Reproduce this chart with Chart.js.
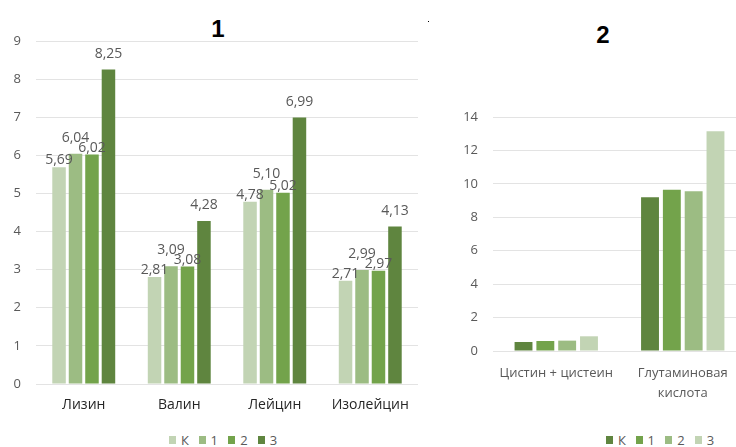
<!DOCTYPE html>
<html>
<head>
<meta charset="utf-8" />
<title>Аминокислоты</title>
<script src="https://cdn.jsdelivr.net/npm/chart.js"></script>
<style>
  body { margin: 0; width: 736px; height: 447px; overflow: hidden; background: #fff; position: relative; font-family: "Open Sans", sans-serif; }
  canvas { position: absolute; top: 0; }
  .title { position: absolute; font: bold 24px "Liberation Sans", Arial, sans-serif; line-height: 24px; color: #000; transform: translateX(-50%); }
  .legend { position: absolute; top: 432px; display: flex; font-size: 13px; color: #595959; line-height: 16px; }
  .legend .item { display: flex; align-items: center; width: 29.6px; }
  .legend i { width: 7px; height: 8px; margin-right: 5px; display: inline-block; }
  .dot { position: absolute; left: 428px; top: 21px; width: 1px; height: 1px; background: #000; }
</style>
</head>
<body>
  <div class="title" style="left: 218px; top: 17px;">1</div>
  <div class="title" style="left: 603px; top: 23px;">2</div>
  <div class="dot"></div>
  <canvas id="chart1" width="440" height="426" style="left: 0;"></canvas>
  <canvas id="chart2" width="320" height="426" style="left: 440px;"></canvas>
  <div class="legend" id="legend1" style="left: 169px;"></div>
  <div class="legend" id="legend2" style="left: 606px;"></div>

<script>
  // chart 1 - essential amino acids
  const amino1 = ["Лизин", "Валин", "Лейцин", "Изолейцин"];
  const groups = ["К", "1", "2", "3"];
  const valsK = [5.69, 2.81, 4.78, 2.71];
  const vals1 = [6.04, 3.09, 5.10, 2.99];
  const vals2 = [6.02, 3.08, 5.02, 2.97];
  const vals3 = [8.25, 4.28, 6.99, 4.13];
  const ticks1 = [0, 9, 1]; // min, max, step

  // chart 2
  const amino2 = ["Цистин + цистеин", ["Глутаминовая", "кислота"]];
  const cysK = [0.54, 9.20];
  const cys1 = [0.60, 9.64];
  const cys2 = [0.62, 9.56];
  const cys3 = [0.88, 13.14];
  const ticks2 = [0, 14, 2];

  const greens = ["#c2d4b4", "#9cbc83", "#73a34b", "#5f853f"];
  const greens2 = greens.slice().reverse();

  const barLabels = {
    id: "barLabels",
    afterDatasetsDraw(chart, args, opts) {
      if (!opts.show) return;
      const ctx = chart.ctx;
      ctx.save();
      ctx.font = "14px 'Open Sans'";
      ctx.fillStyle = "#595959";
      ctx.textAlign = "center";
      ctx.textBaseline = "middle";
      chart.data.datasets.forEach((ds, i) => {
        chart.getDatasetMeta(i).data.forEach((bar, j) => {
          const txt = ds.data[j].toFixed(2).replace(".", ",");
          ctx.fillText(txt, bar.x, bar.y - opts.lift[i]);
        });
      });
      ctx.restore();
    },
  };

  function makeSets(series, colors) {
    return series.map((data, i) => ({
      label: groups[i],
      data: data,
      backgroundColor: colors[i],
      categoryPercentage: 0.69,
      barPercentage: 0.82,
    }));
  }

  function makeOptions(t, yWidth, xHeight, padTop, padRight, xFont, xColor, xPad, showLabels) {
    return {
      responsive: false,
      animation: false,
      layout: { padding: { top: padTop, right: padRight, left: 0, bottom: 0 } },
      plugins: {
        legend: { display: false },
        tooltip: { enabled: false },
        barLabels: { show: showLabels, lift: [7, 16, 7, 16] },
      },
      scales: {
        x: {
          grid: { display: false, drawTicks: false },
          border: { display: false },
          ticks: { color: xColor, font: xFont, padding: xPad, maxRotation: 0, autoSkip: false },
          afterFit: (s) => { s.height = xHeight; },
        },
        y: {
          min: t[0],
          max: t[1],
          grid: { color: "#e3e3e3", lineWidth: 1, drawTicks: false },
          border: { display: false },
          ticks: { stepSize: t[2], color: "#595959", font: { family: "Open Sans", size: 13 }, padding: 15 },
          afterFit: (s) => { s.width = yWidth; },
        },
      },
    };
  }

  new Chart(document.getElementById("chart1"), {
    type: "bar",
    data: { labels: amino1, datasets: makeSets([valsK, vals1, vals2, vals3], greens) },
    options: makeOptions(ticks1, 36, 42, 41, 22, { family: "Open Sans", size: 14 }, "#262626", 13, true),
    plugins: [barLabels],
  });

  new Chart(document.getElementById("chart2"), {
    type: "bar",
    data: { labels: amino2, datasets: makeSets([cysK, cys1, cys2, cys3], greens2) },
    options: makeOptions(ticks2, 53, 75, 117, 14, { family: "Open Sans", size: 13, lineHeight: 20 / 13 }, "#595959", 12, false),
    plugins: [barLabels],
  });

  // html legends
  function fillLegend(id, colors) {
    const box = document.getElementById(id);
    groups.forEach((g, i) => {
      const item = document.createElement("span");
      item.className = "item";
      item.innerHTML = '<i style="background:' + colors[i] + '"></i>' + g;
      box.appendChild(item);
    });
  }
  fillLegend("legend1", greens);
  fillLegend("legend2", greens2);
</script>
</body>
</html>
